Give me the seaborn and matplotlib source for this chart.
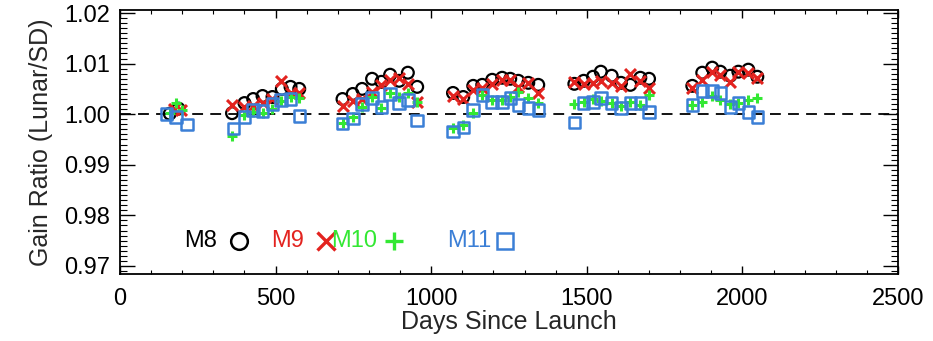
import matplotlib
matplotlib.use("Agg")
import matplotlib.pyplot as plt
import seaborn as sns
import pandas as pd
from matplotlib.ticker import MultipleLocator

# ---------------- data ----------------
m8_days = [160, 188,
           360, 400, 428, 458, 490, 520, 548, 576,
           715, 748, 778, 810, 840, 868, 897, 925, 955,
           1070, 1103, 1135, 1164, 1196, 1228, 1254, 1280, 1312, 1344,
           1460, 1490, 1520, 1545, 1580, 1610, 1640, 1672, 1700,
           1839, 1871, 1903, 1929, 1961, 1987, 2019, 2048]
m8_vals = [1.0001, 1.0011,
           1.0002, 1.0022, 1.0030, 1.0036, 1.0034, 1.0050, 1.0054, 1.0050,
           1.0030, 1.0040, 1.0050, 1.0070, 1.0064, 1.0078, 1.0066, 1.0082, 1.0054,
           1.0042, 1.0034, 1.0056, 1.0058, 1.0068, 1.0072, 1.0070, 1.0066, 1.0062, 1.0058,
           1.0060, 1.0066, 1.0074, 1.0084, 1.0076, 1.0062, 1.0058, 1.0072, 1.0070,
           1.0056, 1.0082, 1.0092, 1.0084, 1.0076, 1.0084, 1.0088, 1.0074]

m9_days = [175, 195,
           360, 400, 428, 458, 490, 518, 548, 576,
           715, 748, 778, 810, 840, 868, 897, 925, 955,
           1070, 1103, 1135, 1164, 1196, 1228, 1254, 1280, 1312, 1344,
           1460, 1490, 1520, 1545, 1580, 1610, 1640, 1672, 1700,
           1839, 1871, 1903, 1929, 1961, 1987, 2019, 2048]
m9_vals = [1.0010, 1.0008,
           1.0018, 1.0014, 1.0016, 1.0022, 1.0030, 1.0066, 1.0042, 1.0042,
           1.0016, 1.0026, 1.0030, 1.0044, 1.0058, 1.0068, 1.0072, 1.0060, 1.0024,
           1.0036, 1.0030, 1.0048, 1.0052, 1.0060, 1.0068, 1.0068, 1.0054, 1.0062, 1.0042,
           1.0064, 1.0060, 1.0062, 1.0066, 1.0062, 1.0056, 1.0080, 1.0066, 1.0052,
           1.0052, 1.0068, 1.0084, 1.0078, 1.0064, 1.0084, 1.0082, 1.0072]

m10_days = [160, 180, 200,
            360, 400, 428, 458, 490, 518, 548, 576,
            715, 748, 778, 810, 840, 868, 897, 925, 955,
            1070, 1103, 1135, 1164, 1196, 1228, 1254, 1280, 1312, 1344,
            1460, 1490, 1520, 1545, 1580, 1610, 1640, 1672, 1700,
            1839, 1871, 1903, 1929, 1961, 1987, 2019, 2048]
m10_vals = [1.0002, 1.0022, 1.0008,
            0.9956, 0.9998, 1.0004, 1.0002, 1.0010, 1.0026, 1.0034, 1.0032,
            0.9982, 0.9994, 1.0014, 1.0034, 1.0012, 1.0042, 1.0034, 1.0042, 1.0024,
            0.9972, 0.9978, 1.0002, 1.0038, 1.0028, 1.0028, 1.0034, 1.0044, 1.0032, 1.0022,
            1.0020, 1.0024, 1.0030, 1.0026, 1.0022, 1.0016, 1.0024, 1.0018, 1.0038,
            1.0018, 1.0024, 1.0036, 1.0028, 1.0020, 1.0022, 1.0028, 1.0032]

m11_days = [150, 180, 215,
            365, 400, 428, 458, 490, 518, 548, 576,
            715, 748, 778, 810, 840, 868, 897, 925, 955,
            1070, 1103, 1135, 1164, 1196, 1228, 1254, 1280, 1312, 1344,
            1460, 1490, 1520, 1545, 1580, 1610, 1640, 1672, 1700,
            1839, 1871, 1903, 1929, 1961, 1987, 2019, 2048]
m11_vals = [1.0000, 0.9994, 0.9980,
            0.9972, 0.9994, 1.0008, 1.0006, 1.0020, 1.0028, 1.0030, 0.9996,
            0.9982, 0.9992, 1.0020, 1.0032, 1.0014, 1.0040, 1.0022, 1.0028, 0.9988,
            0.9966, 0.9974, 1.0008, 1.0038, 1.0024, 1.0024, 1.0032, 1.0018, 1.0012, 1.0008,
            0.9984, 1.0022, 1.0024, 1.0032, 1.0022, 1.0012, 1.0022, 1.0022, 1.0004,
            1.0018, 1.0046, 1.0046, 1.0042, 1.0014, 1.0022, 1.0004, 0.9994]

bands = ["M8", "M9", "M10", "M11"]
x_ticks = [0, 500, 1000, 1500, 2000, 2500]
y_ticks = [0.97, 0.98, 0.99, 1.00, 1.01, 1.02]

# ---------------- style ----------------
sns.set_theme(style="white")
plt.rcParams["font.family"] = ["Liberation Sans", "DejaVu Sans"]

colors = {"M8": "black", "M9": "#e3231f", "M10": "#33e833", "M11": "#3b7fd6"}

fig = plt.figure(figsize=(9.33, 3.41), dpi=100)
ax = fig.add_axes([120 / 933, 1 - 274 / 341, 778 / 933, 264 / 341])

series = {
    "M8": (m8_days, m8_vals),
    "M9": (m9_days, m9_vals),
    "M10": (m10_days, m10_vals),
    "M11": (m11_days, m11_vals),
}

ax.axhline(1.0, color="black", lw=1.3, dashes=(6, 4), zorder=1)

for b in bands:
    d, v = series[b]
    df = pd.DataFrame({"days": d, "ratio": v})
    c = colors[b]
    if b == "M8":
        sns.scatterplot(data=df, x="days", y="ratio", ax=ax, marker="o", s=72,
                        facecolors="none", edgecolor=c, linewidth=1.6, zorder=3)
    elif b == "M9":
        sns.scatterplot(data=df, x="days", y="ratio", ax=ax, marker="x", s=62,
                        color=c, linewidth=2.2, zorder=4)
    elif b == "M10":
        sns.scatterplot(data=df, x="days", y="ratio", ax=ax, marker="+", s=58,
                        color=c, linewidth=2.2, zorder=5)
    else:
        sns.scatterplot(data=df, x="days", y="ratio", ax=ax, marker="s", s=68,
                        facecolors="none", edgecolor=c, linewidth=1.8, zorder=6)

ax.set_xlim(0, 2500)
ax.set_ylim(0.9684, 1.0206)
ax.set_xticks(x_ticks)
ax.set_xticklabels([str(t) for t in x_ticks])
ax.set_yticks(y_ticks)
ax.set_yticklabels([f"{t:.2f}" for t in y_ticks])
ax.xaxis.set_minor_locator(MultipleLocator(100))
ax.yaxis.set_minor_locator(MultipleLocator(0.001))

for sp in ax.spines.values():
    sp.set_color("black")
    sp.set_linewidth(1.3)

ax.tick_params(axis="both", which="both", direction="in", colors="black",
               top=True, right=True, bottom=True, left=True, labelsize=17)
ax.tick_params(axis="y", which="major", length=11, width=1.0, pad=7)
ax.tick_params(axis="y", which="minor", length=5, width=0.8)
ax.tick_params(axis="x", which="major", length=6, width=1.0, pad=10)
ax.tick_params(axis="x", which="minor", length=3, width=0.8)

ax.set_xlabel("Days Since Launch", fontsize=18, labelpad=0)
ax.set_ylabel("Gain Ratio (Lunar/SD)", fontsize=18, labelpad=8)
ax.grid(False)

# legend-like annotations
ly = 0.125
leg = [("M8", 0.083, 0.153, "o"), ("M9", 0.194, 0.265, "x"),
       ("M10", 0.271, 0.352, "+"), ("M11", 0.420, 0.495, "s")]
for name, tx, mx, mk in leg:
    c = colors[name]
    ax.text(tx, ly, name, transform=ax.transAxes, fontsize=17, color=c,
            va="center", ha="left")
    if mk in ("o", "s"):
        ax.plot([mx], [ly], marker=mk, ms=12, mfc="none", mec=c, mew=1.8,
                transform=ax.transAxes, clip_on=False, ls="none")
    else:
        ax.plot([mx], [ly], marker=mk, ms=13, color=c, mew=2.4,
                transform=ax.transAxes, clip_on=False, ls="none")

fig.savefig("out.png", dpi=100)
